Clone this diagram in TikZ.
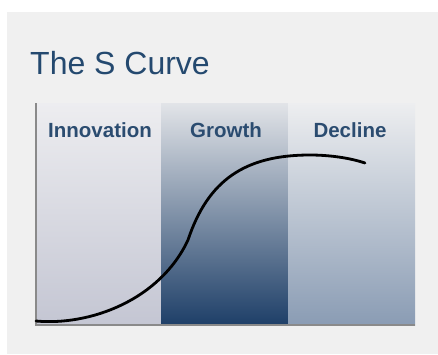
\documentclass[tikz,border=0pt]{standalone}
\usepackage{fontspec}
\setmainfont{Liberation Sans}
\definecolor{panel}{HTML}{F0F0F0}
\definecolor{titleblue}{HTML}{24496F}
\definecolor{labelblue}{HTML}{2B4C70}
\definecolor{axisgray}{HTML}{8A8A8A}
\definecolor{innotop}{HTML}{EDEDF0}
\definecolor{innobot}{HTML}{C4C6D3}
\definecolor{growtop}{HTML}{E2E4E8}
\definecolor{growbot}{HTML}{1E3F68}
\definecolor{dectop}{HTML}{EDEEF0}
\definecolor{decbot}{HTML}{8A9CB4}
\tikzset{
  phase/.style={font=\bfseries\fontsize{20.5}{24}\selectfont, text=labelblue, anchor=base},
  axis/.style={draw=axisgray, line width=1.5pt},
}
\begin{document}
\begin{tikzpicture}[x=1pt,y=-1pt]
\useasboundingbox (0,0) rectangle (438,354);
\fill[white] (0,0) rectangle (438,354);
\fill[panel] (7,12) rectangle (438,354);
\node[font=\fontsize{32}{36}\selectfont, text=titleblue, anchor=base west, inner sep=0pt] (title) at (30,74) {The S Curve};
\shade[top color=innotop, bottom color=innobot] (36,103) rectangle (161,325);
\shade[top color=growtop, bottom color=growbot] (161,103) rectangle (288,325);
\shade[top color=dectop, bottom color=decbot] (288,103) rectangle (415,325);
\node[phase] (inno) at (100,137) {Innovation};
\node[phase] (grow) at (226,137) {Growth};
\node[phase] (dec) at (350,137) {Decline};
\draw[axis] (36,103) -- (36,325) -- (415,325);
\draw[line width=2.8pt, line cap=round] (36,321) .. controls (90,326) and (160,300) .. (188,240)
  .. controls (208,180) and (245,155) .. (310,155)
  .. controls (330,155) and (350,158) .. (365,163);
\end{tikzpicture}
\end{document}
